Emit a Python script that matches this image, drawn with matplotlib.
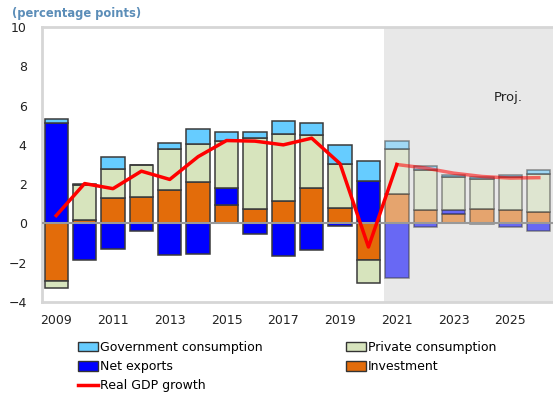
import matplotlib
matplotlib.use('Agg')
import matplotlib.pyplot as plt
import numpy as np
from matplotlib.patches import Patch
from matplotlib.lines import Line2D

years = list(range(2009, 2027))
gov = [0.2, 0.07, 0.6, 0.05, 0.3, 0.73, 0.46, 0.33, 0.62, 0.63, 0.96, 1.06,
       0.42, 0.17, 0.13, 0.12, 0.13, 0.17]
priv = [-0.35, 1.8, 1.47, 1.61, 2.12, 1.96, 2.37, 3.6, 3.43, 2.66, 2.24, -1.14,
        2.29, 2.07, 1.7, 1.53, 1.7, 1.95]
netex = [5.1, -1.88, -1.29, -0.36, -1.63, -1.55, 0.9, -0.56, -1.66, -1.37, -0.14, 2.14,
         -2.78, -0.19, 0.17, -0.03, -0.19, -0.36]
inv = [-2.95, 0.15, 1.31, 1.34, 1.68, 2.1, 0.92, 0.75, 1.14, 1.82, 0.8, -1.88,
       1.51, 0.66, 0.49, 0.71, 0.66, 0.58]
gdp = [0.4, 2.03, 1.77, 2.66, 2.24, 3.4, 4.22, 4.19, 4.0, 4.34, 3.04, -1.2,
       3.0, 2.82, 2.56, 2.39, 2.31, 2.33]
first_proj = 2021

series = [
    ('Investment', inv, '#E36C0A'),
    ('Net exports', netex, '#0000FF'),
    ('Private consumption', priv, '#D7E4BD'),
    ('Government consumption', gov, '#66CCFF'),
]

fig = plt.figure(figsize=(5.53, 4.0), dpi=100)
ax = fig.add_axes([42 / 553, 1 - 302 / 400, 1 - 42 / 553, 275 / 400])

x = np.array(years)
hist = x < first_proj
ax.axvspan(first_proj - 0.45, 2026.5, color='#E8E8E8', zorder=0, lw=0)

# stack positives up from zero and negatives down from zero
pos_base = np.zeros(len(x))
neg_base = np.zeros(len(x))
for name, vals, col in series:
    v = np.array(vals)
    bottom = np.where(v >= 0, pos_base, neg_base)
    for mask, alpha in ((hist, 1.0), (~hist, 0.55)):
        ax.bar(x[mask], v[mask], 0.82, bottom=bottom[mask], color=col,
               edgecolor='#3A3A3A', linewidth=1.1, alpha=alpha, zorder=2)
    pos_base = pos_base + np.where(v >= 0, v, 0)
    neg_base = neg_base + np.where(v < 0, v, 0)

ax.axhline(0, color='#999999', lw=1.5, zorder=3)

g = np.array(gdp)
k = years.index(first_proj)
ax.plot(x[:k + 1], g[:k + 1], color='#FF0000', lw=2.5, zorder=4)
ax.plot(x[k:], g[k:], color='#FF0000', lw=2.5, alpha=0.55, zorder=4)

ax.text(2024.4, 6.4, 'Proj.', fontsize=9.5, color='#222222', ha='left', va='center')

ax.set_xlim(2008.5, 2026.5)
ax.set_ylim(-4, 10)
ax.set_yticks(range(-4, 11, 2))
ax.set_xticks(range(2009, 2026, 2))
ax.tick_params(length=0, labelsize=9, labelcolor='#222222')
ax.tick_params(axis='y', pad=11)
ax.tick_params(axis='x', pad=9)
for s in ('top', 'left', 'bottom'):
    ax.spines[s].set_color('#D6D6D6')
    ax.spines[s].set_linewidth(2)
ax.spines['right'].set_visible(False)

fig.text(12 / 553, 1 - 13 / 400, '(percentage points)', color='#5B8DB8',
         fontsize=8.3, fontweight='bold', ha='left', va='center')

handles = [
    Patch(facecolor='#66CCFF', edgecolor='#333333', label='Government consumption'),
    Patch(facecolor='#0000FF', edgecolor='#333333', label='Net exports'),
    Line2D([], [], color='#FF0000', lw=2.5, label='Real GDP growth'),
    Patch(facecolor='#D7E4BD', edgecolor='#333333', label='Private consumption'),
    Patch(facecolor='#E36C0A', edgecolor='#333333', label='Investment'),
]
fig.legend(handles=handles, ncol=2, loc='upper left', bbox_to_anchor=(78 / 553, 1 - 341 / 400),
           frameon=False, fontsize=9, borderpad=0, handlelength=1.6, handleheight=0.8,
           handletextpad=0.2, labelspacing=0.5, columnspacing=6.6, borderaxespad=0)

fig.savefig('out.png', dpi=100)
